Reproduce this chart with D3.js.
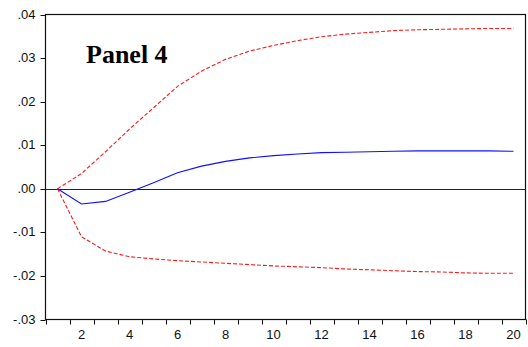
<!DOCTYPE html>
<html>
<head>
<meta charset="utf-8">
<script src="https://cdn.jsdelivr.net/npm/d3@7"></script>
<style>
  body { margin: 0; background: #fff; }
  svg { display: block; }
  .tick-label { font-family: "Liberation Sans", Arial, sans-serif; font-size: 13px; fill: #111; }
</style>
</head>
<body>
<div id="chart"></div>
<script>
var periods = d3.range(1, 21);
var response = [0, -0.0035, -0.0029, -0.0008, 0.0014, 0.0037, 0.0052, 0.0063, 0.0071, 0.0076,
  0.0080, 0.0083, 0.0084, 0.0085, 0.0086, 0.0087, 0.0087, 0.0087, 0.0087, 0.0086];
var upperBand = [0, 0.0035, 0.0085, 0.0137, 0.0186, 0.0235, 0.0270, 0.0297, 0.0316, 0.0329,
  0.0340, 0.0349, 0.0355, 0.0359, 0.0363, 0.0365, 0.0366, 0.0367, 0.0368, 0.0368];
var lowerBand = [0, -0.0110, -0.0143, -0.0156, -0.0161, -0.0165, -0.0168, -0.0171, -0.0174, -0.0177,
  -0.0179, -0.0181, -0.0184, -0.0186, -0.0188, -0.0190, -0.0191, -0.0193, -0.0194, -0.0194];
var yTicks = [0.04, 0.03, 0.02, 0.01, 0, -0.01, -0.02, -0.03];
var xLabels = [2, 4, 6, 8, 10, 12, 14, 16, 18, 20];

var W = 528, H = 347;
var plotL = 45.5, plotR = 525.5, plotT = 14.5, plotB = 319.5;

var svg = d3.select("#chart").append("svg")
  .attr("width", W)
  .attr("height", H);

var x = d3.scaleBand()
  .domain(periods)
  .range([plotL, plotR])
  .paddingInner(0)
  .paddingOuter(0);

var y = d3.scaleLinear()
  .domain([-0.03, 0.04])
  .range([plotB, plotT]);

function cx(p) { return x(p) + x.bandwidth() / 2; }

function fmt(v) {
  if (v === 0) return ".00";
  var s = Math.abs(v).toFixed(2).replace(/^0/, "");
  return (v < 0 ? "-" : "") + s;
}

// frame
svg.append("rect")
  .attr("x", plotL)
  .attr("y", plotT)
  .attr("width", plotR - plotL)
  .attr("height", plotB - plotT)
  .attr("fill", "none")
  .attr("stroke", "#111")
  .attr("stroke-width", 1.2);

// zero line
svg.append("line")
  .attr("x1", plotL).attr("x2", plotR)
  .attr("y1", Math.round(y(0)) + 0.5).attr("y2", Math.round(y(0)) + 0.5)
  .attr("stroke", "#222")
  .attr("stroke-width", 1);

// y axis ticks + labels
var yAxis = svg.append("g");
yTicks.forEach(function(t) {
  var yy = Math.round(y(t)) + 0.5;
  yAxis.append("line")
    .attr("x1", plotL - 5).attr("x2", plotL)
    .attr("y1", yy).attr("y2", yy)
    .attr("stroke", "#111");
  yAxis.append("text")
    .attr("class", "tick-label")
    .attr("x", plotL - 10)
    .attr("y", yy + 3.5)
    .attr("text-anchor", "end")
    .text(fmt(t));
});

// x axis ticks at band edges
var xAxis = svg.append("g");
periods.concat([21]).forEach(function(p, i) {
  var xx = Math.round(plotL + i * x.bandwidth()) + 0.5;
  xAxis.append("line")
    .attr("x1", xx).attr("x2", xx)
    .attr("y1", plotB).attr("y2", plotB + 5)
    .attr("stroke", "#111");
});
xLabels.forEach(function(p) {
  xAxis.append("text")
    .attr("class", "tick-label")
    .attr("x", cx(p))
    .attr("y", plotB + 19.5)
    .attr("text-anchor", "middle")
    .text(p);
});

var line = d3.line()
  .x(function(d, i) { return cx(periods[i]); })
  .y(function(d) { return y(d); });

svg.append("path")
  .datum(upperBand)
  .attr("d", line)
  .attr("fill", "none")
  .attr("stroke", "#ff1a1a")
  .attr("stroke-width", 1.1)
  .attr("stroke-dasharray", "4,2");

svg.append("path")
  .datum(lowerBand)
  .attr("d", line)
  .attr("fill", "none")
  .attr("stroke", "#ff1a1a")
  .attr("stroke-width", 1.1)
  .attr("stroke-dasharray", "4,2");

svg.append("path")
  .datum(response)
  .attr("d", line)
  .attr("fill", "none")
  .attr("stroke", "#1010ff")
  .attr("stroke-width", 1.1);

svg.append("text")
  .attr("x", 86)
  .attr("y", 63)
  .attr("font-family", "'Liberation Serif', 'Times New Roman', serif")
  .attr("font-weight", "bold")
  .attr("font-size", 26)
  .attr("fill", "#000")
  .text("Panel 4");
</script>
</body>
</html>
